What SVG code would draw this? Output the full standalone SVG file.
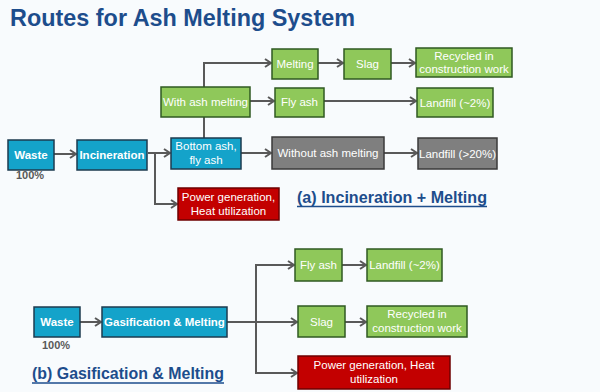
<svg xmlns="http://www.w3.org/2000/svg" width="600" height="392" viewBox="0 0 600 392">
<defs>
<marker id="ah" markerUnits="userSpaceOnUse" markerWidth="10" markerHeight="12" refX="7" refY="5" orient="auto">
<path d="M1,1 L7,5 L1,9" fill="none" stroke="#595959" stroke-width="2"/>
</marker>
<style>
.blue{fill:#14a3ca;stroke:#1c3b4f;stroke-width:1.5}
.green{fill:#8fc85a;stroke:#2f5a22;stroke-width:1.5}
.gray{fill:#7f7f7f;stroke:#3a3a3a;stroke-width:1.5}
.red{fill:#c30000;stroke:#6e0000;stroke-width:1.5}
.t{font-family:"Liberation Sans",Arial,sans-serif;font-size:11.5px;fill:#ffffff;text-anchor:middle}
.b{font-weight:bold}
.pct{font-family:"Liberation Sans",Arial,sans-serif;font-size:11px;font-weight:bold;fill:#595959;text-anchor:middle}
.h{font-family:"Liberation Sans",Arial,sans-serif;font-weight:bold;fill:#1d4d8c}
.c{fill:none;stroke:#595959;stroke-width:2}
</style>
</defs>
<rect width="600" height="392" fill="#f8fbfd"/>
<text class="h" x="10" y="26" font-size="24" textLength="345" lengthAdjust="spacingAndGlyphs">Routes for Ash Melting System</text>

<g id="connectors">
<path class="c" d="M204,138 V63 H271" marker-end="url(#ah)"/>
<path class="c" d="M318,63 H343" marker-end="url(#ah)"/>
<path class="c" d="M391,63 H415" marker-end="url(#ah)"/>
<path class="c" d="M250,101 H274" marker-end="url(#ah)"/>
<path class="c" d="M324,101 H416" marker-end="url(#ah)"/>
<path class="c" d="M54,154 H76" marker-end="url(#ah)"/>
<path class="c" d="M148,153 H170" marker-end="url(#ah)"/>
<path class="c" d="M155,153 V204 H177" marker-end="url(#ah)"/>
<path class="c" d="M241,153 H271" marker-end="url(#ah)"/>
<path class="c" d="M384,153 H417" marker-end="url(#ah)"/>
<path class="c" d="M80,322 H101" marker-end="url(#ah)"/>
<path class="c" d="M227,322 H297" marker-end="url(#ah)"/>
<path class="c" d="M256,322 V265 H294" marker-end="url(#ah)"/>
<path class="c" d="M256,322 V373 H297" marker-end="url(#ah)"/>
<path class="c" d="M342,265 H366" marker-end="url(#ah)"/>
<path class="c" d="M345,322 H366" marker-end="url(#ah)"/>
</g>

<g id="a-melting"><rect class="green" x="272" y="49" width="46" height="30"/><text class="t" x="295" y="68">Melting</text></g>
<g id="a-slag"><rect class="green" x="344" y="49" width="47" height="30"/><text class="t" x="367.5" y="68">Slag</text></g>
<g id="a-recycled"><rect class="green" x="416" y="48" width="96" height="29"/><text class="t" x="464" y="60">Recycled in</text><text class="t" x="464" y="73">construction work</text></g>
<g id="a-with"><rect class="green" x="161" y="87" width="89" height="30"/><text class="t" x="205.5" y="106">With ash melting</text></g>
<g id="a-flyash"><rect class="green" x="275" y="88" width="49" height="29"/><text class="t" x="299.5" y="106">Fly ash</text></g>
<g id="a-landfill2"><rect class="green" x="417" y="88" width="76" height="29"/><text class="t" x="455" y="106.5">Landfill (~2%)</text></g>
<g id="a-waste"><rect class="blue" x="8" y="140" width="46" height="30"/><text class="t b" x="31" y="159">Waste</text><text class="pct" x="30" y="179">100%</text></g>
<g id="a-incineration"><rect class="blue" x="77" y="140" width="70" height="30"/><text class="t b" x="112" y="159">Incineration</text></g>
<g id="a-bottomash"><rect class="blue" x="171" y="138" width="70" height="31"/><text class="t" x="206" y="150">Bottom ash,</text><text class="t" x="206" y="164">fly ash</text></g>
<g id="a-without"><rect class="gray" x="272" y="137" width="112" height="32"/><text class="t" x="328" y="157">Without ash melting</text></g>
<g id="a-landfill20"><rect class="gray" x="418" y="138" width="79" height="31"/><text class="t" x="457.5" y="157.5">Landfill (&gt;20%)</text></g>
<g id="a-power"><rect class="red" x="178" y="188" width="101" height="32"/><text class="t" x="228.5" y="201">Power generation,</text><text class="t" x="228.5" y="215">Heat utilization</text></g>
<g id="a-label"><text class="h" x="297" y="203" font-size="17" textLength="190" lengthAdjust="spacingAndGlyphs">(a) Incineration + Melting</text><line x1="297" y1="206.5" x2="487" y2="206.5" stroke="#1d4d8c" stroke-width="1.3"/></g>

<g id="b-waste"><rect class="blue" x="34" y="307" width="46" height="30"/><text class="t b" x="57" y="326">Waste</text><text class="pct" x="56" y="349">100%</text></g>
<g id="b-gasification"><rect class="blue" x="102" y="307" width="125" height="30"/><text class="t b" x="164.5" y="326">Gasification &amp; Melting</text></g>
<g id="b-flyash"><rect class="green" x="295" y="249" width="47" height="32"/><text class="t" x="318.5" y="269">Fly ash</text></g>
<g id="b-landfill2"><rect class="green" x="367" y="249" width="75" height="32"/><text class="t" x="404.5" y="269">Landfill (~2%)</text></g>
<g id="b-slag"><rect class="green" x="298" y="306" width="47" height="31"/><text class="t" x="321.5" y="325.5">Slag</text></g>
<g id="b-recycled"><rect class="green" x="367" y="306" width="100" height="31"/><text class="t" x="417" y="318">Recycled in</text><text class="t" x="417" y="332">construction work</text></g>
<g id="b-power"><rect class="red" x="298" y="356" width="152" height="33"/><text class="t" x="374" y="369">Power generation, Heat</text><text class="t" x="374" y="383">utilization</text></g>
<g id="b-label"><text class="h" x="32" y="379" font-size="17" textLength="192" lengthAdjust="spacingAndGlyphs">(b) Gasification &amp; Melting</text><line x1="32" y1="383" x2="224" y2="383" stroke="#1d4d8c" stroke-width="1.3"/></g>
</svg>
